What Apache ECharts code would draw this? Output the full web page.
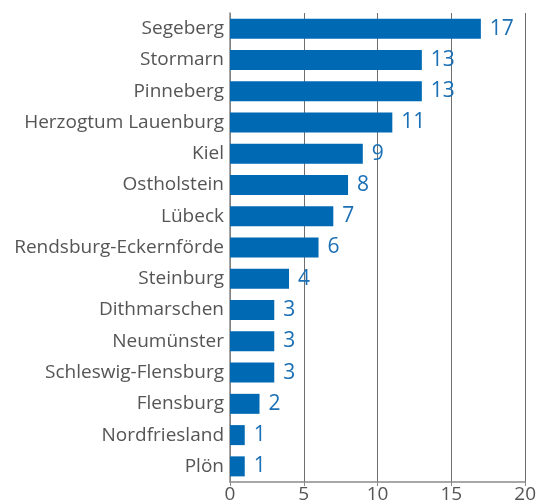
<!DOCTYPE html>
<html>
<head>
<meta charset="utf-8">
<title>Kreise</title>
<style>
  html, body { margin: 0; padding: 0; background: #fff; }
  #chart { width: 539px; height: 504px; }
</style>
</head>
<body>
<div id="chart"></div>
<script src="https://cdn.jsdelivr.net/npm/echarts@6/dist/echarts.min.js"></script>
<script>
// Daten (von oben nach unten)
var kreise = ['Segeberg', 'Stormarn', 'Pinneberg', 'Herzogtum Lauenburg', 'Kiel', 'Ostholstein',
  'Lübeck', 'Rendsburg-Eckernförde', 'Steinburg', 'Dithmarschen', 'Neumünster',
  'Schleswig-Flensburg', 'Flensburg', 'Nordfriesland', 'Plön'];
var werte = [17, 13, 13, 11, 9, 8, 7, 6, 4, 3, 3, 3, 2, 1, 1];
var xTicks = [0, 5, 10, 15, 20];

var myChart = echarts.init(document.getElementById('chart'));
var option = {
  animation: false,
  grid: { left: 230, right: 13, top: 13, bottom: 20 },
  xAxis: {
    type: 'value',
    min: xTicks[0],
    max: xTicks[xTicks.length - 1],
    interval: 5,
    axisLine: { show: true, lineStyle: { color: '#8a8a8a', width: 1.5 } },
    axisTick: { show: true, length: 4, lineStyle: { color: '#8a8a8a' } },
    splitLine: { show: true, lineStyle: { color: '#6e6e6e', width: 1 } },
    axisLabel: { color: '#555', fontSize: 19, fontFamily: 'Open Sans', margin: 3 }
  },
  yAxis: {
    type: 'category',
    data: kreise,
    inverse: true,
    axisLine: { show: true, lineStyle: { color: '#8a8a8a', width: 1.5 } },
    axisTick: { show: false },
    axisLabel: { color: '#555', fontSize: 19, fontFamily: 'Open Sans', margin: 6 }
  },
  series: [{
    type: 'bar',
    data: werte,
    barWidth: 20,
    itemStyle: { color: '#0069b4' },
    label: {
      show: true,
      position: 'right',
      distance: 9,
      color: '#1a6fb5',
      fontSize: 21,
      fontFamily: 'Open Sans'
    }
  }]
};
myChart.setOption(option);
</script>
</body>
</html>
